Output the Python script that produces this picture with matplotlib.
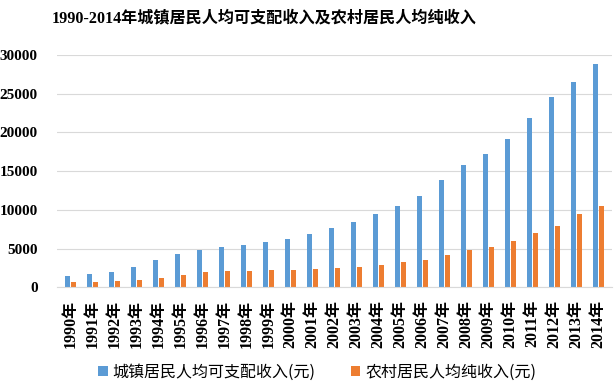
import matplotlib
matplotlib.use("Agg")
import matplotlib.pyplot as plt
import numpy as np

years = [str(y) + "年" for y in range(1990, 2015)]
urban = [1510.2, 1700.6, 2026.6, 2577.4, 3496.2, 4283.0, 4838.9, 5160.3, 5425.1, 5854.0,
         6280.0, 6859.6, 7702.8, 8472.2, 9421.6, 10493.0, 11759.5, 13785.8, 15780.8, 17174.7,
         19109.4, 21809.8, 24564.7, 26467.0, 28843.9]
rural = [686.3, 708.6, 784.0, 921.6, 1221.0, 1577.7, 1926.1, 2090.1, 2162.0, 2210.3,
         2253.4, 2366.4, 2475.6, 2622.2, 2936.4, 3254.9, 3587.0, 4140.4, 4760.6, 5153.2,
         5919.0, 6977.3, 7916.6, 9429.6, 10488.9]
yticks = [0, 5000, 10000, 15000, 20000, 25000, 30000]
title = "1990-2014年城镇居民人均可支配收入及农村居民人均纯收入"
labels = ["城镇居民人均可支配收入(元)", "农村居民人均纯收入(元)"]

serif = ["Liberation Serif", "Noto Sans CJK SC"]
sans = ["Noto Sans CJK SC", "DejaVu Sans"]

fig = plt.figure(figsize=(6.16, 3.91), dpi=100)
ax = fig.add_axes([0.093, 0.265, 0.9, 0.595])

x = np.arange(len(years))
w = 0.24
ax.bar(x - w / 2 - 0.02, urban, w, color="#5B9BD5", label=labels[0])
ax.bar(x + w / 2 + 0.02, rural, w, color="#ED7D31", label=labels[1])

ax.set_xlim(-0.6, len(years) - 0.4)
ax.set_ylim(0, 30000)
ax.set_yticks(yticks)
ax.set_yticklabels([str(v) for v in yticks], fontfamily=serif, fontweight="bold", fontsize=11)
ax.set_xticks(x)
ax.set_xticklabels(years, rotation=90, fontfamily=serif, fontweight="bold", fontsize=11.5)
ax.tick_params(axis="both", length=0)
ax.tick_params(axis="y", pad=14)
ax.tick_params(axis="x", pad=9)
ax.grid(axis="y", color="#D9D9D9", linewidth=0.8)
ax.set_axisbelow(True)
for s in ["top", "right", "left"]:
    ax.spines[s].set_visible(False)
ax.spines["bottom"].set_color("#D9D9D9")

fig.text(0.429, 0.953, title, ha="center", va="center", fontfamily=serif,
         fontweight="bold", fontsize=11.6)

leg = fig.legend(loc="center", bbox_to_anchor=(0.515, 0.048), ncol=2, frameon=False,
                 prop={"family": sans, "size": 11.5}, handlelength=0.6, handleheight=0.6,
                 columnspacing=2.2, handletextpad=0.3)

fig.savefig("out.png", dpi=100)
